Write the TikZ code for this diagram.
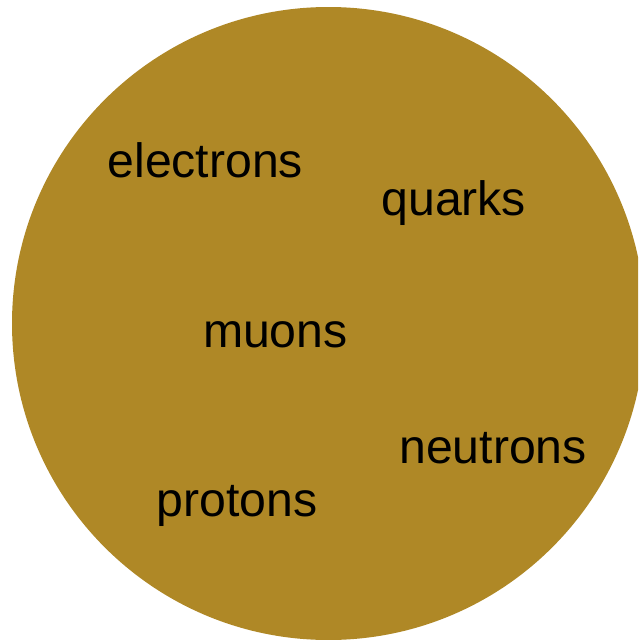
\documentclass[tikz,border=0pt]{standalone}
\usepackage{fontspec}
\setmainfont{Liberation Sans}
\definecolor{gold}{RGB}{175,136,38}
\begin{document}
\begin{tikzpicture}[x=1pt,y=-1pt,
  lbl/.style={anchor=base west,inner sep=0pt,font=\fontsize{48.2}{58}\selectfont,text=black}]
\useasboundingbox (0,0) rectangle (638,640);
\clip (0,0) rectangle (638,640);
\fill[gold] (328.5,323.5) circle[radius=316.5];
\node[lbl] (electrons) at (107.3,177.7) {electrons};
\node[lbl] (quarks) at (381.2,215.7) {quarks};
\node[lbl] (muons) at (202.8,347.7) {muons};
\node[lbl] (neutrons) at (399.1,463.3) {neutrons};
\node[lbl] (protons) at (156.2,516.7) {protons};
\end{tikzpicture}
\end{document}
